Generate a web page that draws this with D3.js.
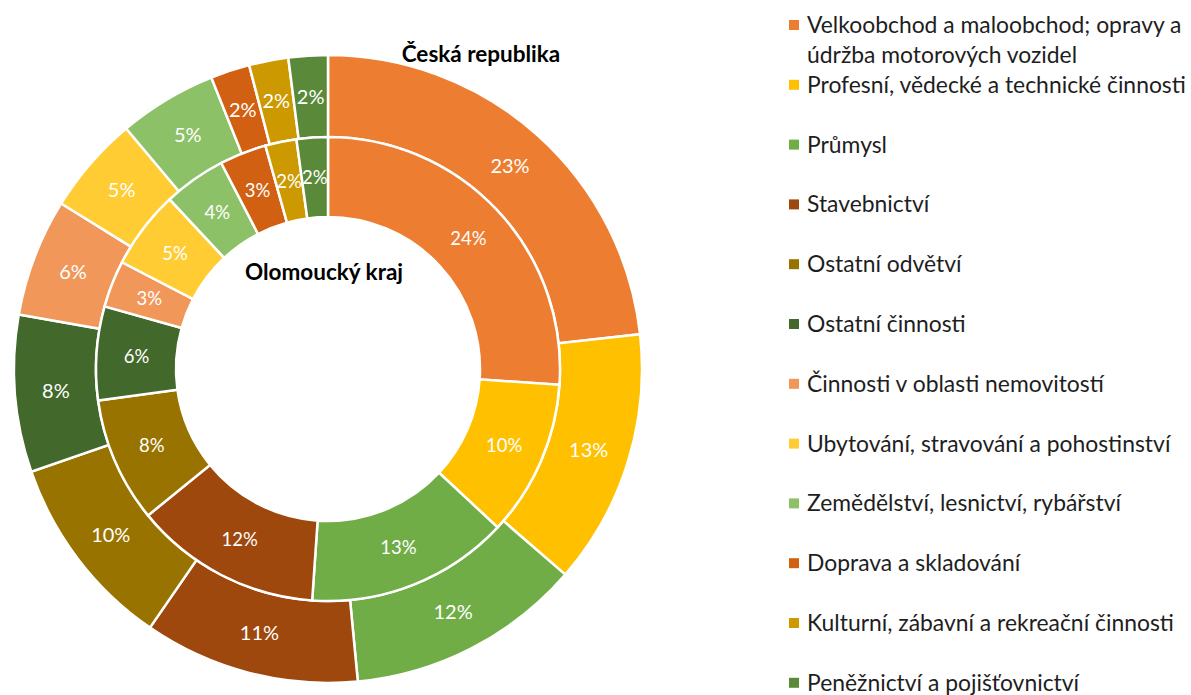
<!DOCTYPE html>
<html>
<head>
<meta charset="utf-8">
<script src="https://cdn.jsdelivr.net/npm/d3@7/dist/d3.min.js"></script>
<style>
  body { margin: 0; background: #fff; }
  svg { display: block; }
  text { font-family: Lato, "Noto Sans", sans-serif; }
</style>
</head>
<body>
<div id="chart"></div>
<script>
// Nested donut: outer ring Česká republika, inner ring Olomoucký kraj

const categories = [
  'Velkoobchod a maloobchod; opravy a údržba motorových vozidel',
  'Profesní, vědecké a technické činnosti',
  'Průmysl',
  'Stavebnictví',
  'Ostatní odvětví',
  'Ostatní činnosti',
  'Činnosti v oblasti nemovitostí',
  'Ubytování, stravování a pohostinství',
  'Zemědělství, lesnictví, rybářství',
  'Doprava a skladování',
  'Kulturní, zábavní a rekreační činnosti',
  'Peněžnictví a pojišťovnictví'
];
const czValues = [23, 13, 12, 11, 10, 8, 6, 5, 5, 2, 2, 2];
const olkValues = [24, 10, 13, 12, 8, 6, 3, 5, 4, 3, 2, 2];
const colors = ['#ED7D31', '#FFC000', '#70AD47', '#9E480E', '#997300', '#43682B',
  '#F1975A', '#FFCD33', '#8CC168', '#D26012', '#CC9A00', '#5A8A39'];

const width = 1191;
const height = 695;
const cx = 328, cy = 369;
const rHole = 152, rMid = 232, rOuter = 314;

const svg = d3.select('#chart')
  .append('svg')
  .attr('width', width)
  .attr('height', height);

const g = svg.append('g')
  .attr('transform', `translate(${cx}, ${cy})`);

const color = d3.scaleOrdinal().domain(categories).range(colors);

const pie = d3.pie().sort(null).value(d => d.value);

function drawRing(values, inner, outer, fontSize) {
  const data = pie(values.map((v, i) => ({ cat: categories[i], value: v })));
  const arc = d3.arc().innerRadius(inner).outerRadius(outer);
  const ring = g.append('g');
  ring.selectAll('path')
    .data(data)
    .enter()
    .append('path')
    .attr('d', arc)
    .attr('fill', d => color(d.data.cat))
    .attr('stroke', '#fff')
    .attr('stroke-width', 2.5)
    .attr('stroke-linejoin', 'miter');
  ring.selectAll('text')
    .data(data)
    .enter()
    .append('text')
    .attr('transform', d => `translate(${arc.centroid(d)})`)
    .attr('text-anchor', 'middle')
    .attr('dy', '0.36em')
    .attr('fill', '#fff')
    .style('font-size', fontSize + 'px')
    .text(d => d.data.value + '%');
}

drawRing(czValues, rMid, rOuter, 20);
drawRing(olkValues, rHole, rMid, 18.5);

// ring titles
svg.append('text')
  .attr('x', 481).attr('y', 62)
  .attr('text-anchor', 'middle')
  .style('font-size', '22.5px').style('font-weight', '700')
  .attr('fill', '#000')
  .text('Česká republika');

svg.append('text')
  .attr('x', 324).attr('y', 280)
  .attr('text-anchor', 'middle')
  .style('font-size', '22.5px').style('font-weight', '700')
  .attr('fill', '#000')
  .text('Olomoucký kraj');

// legend
const legendX = 789, textX = 807, firstBaseline = 33, step = 59.8, lineH = 30, maxW = 384;

// fit font size to the widest one-line entry
const probe = svg.append('text').style('font-size', '20px').text(categories[1]);
const legendFont = 20 * 379 / probe.node().getComputedTextLength();
probe.remove();

const legend = svg.append('g').attr('class', 'legend');

categories.forEach((cat, i) => {
  const y = firstBaseline + i * step;
  legend.append('rect')
    .attr('x', legendX).attr('y', y - 13)
    .attr('width', 10).attr('height', 10)
    .attr('fill', color(cat));

  const t = legend.append('text')
    .attr('x', textX).attr('y', y)
    .style('font-size', legendFont + 'px')
    .attr('fill', '#1e1e1e');

  // simple word wrap
  const words = cat.split(' ');
  let line = [];
  let tspan = t.append('tspan').attr('x', textX).attr('y', y);
  let lineNo = 0;
  words.forEach(w => {
    line.push(w);
    tspan.text(line.join(' '));
    if (tspan.node().getComputedTextLength() > maxW && line.length > 1) {
      line.pop();
      tspan.text(line.join(' '));
      line = [w];
      lineNo++;
      tspan = t.append('tspan').attr('x', textX).attr('y', y + lineNo * lineH).text(w);
    }
  });
});
</script>
</body>
</html>
